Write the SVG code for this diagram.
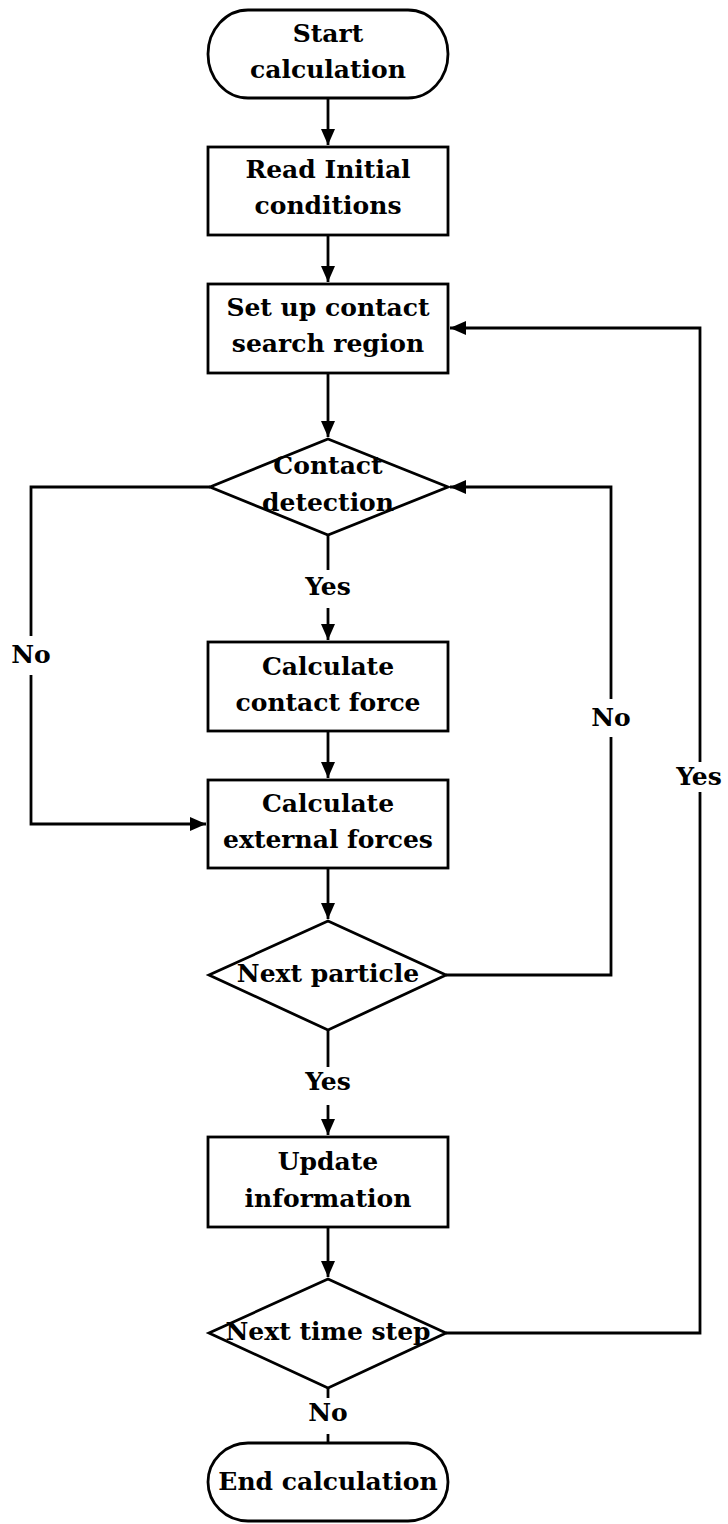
<svg xmlns="http://www.w3.org/2000/svg" width="728" height="1524" viewBox="0 0 728 1524">
<style>
.s{fill:#fff;stroke:#000;stroke-width:2.8}
.t{font-family:"DejaVu Serif",serif;font-weight:bold;font-size:25px;text-anchor:middle;fill:#000}
.c{fill:none;stroke:#000;stroke-width:2.8}
</style>
<defs>
<marker id="a" markerUnits="userSpaceOnUse" markerWidth="16" markerHeight="16" refX="16" refY="8" orient="auto">
<path d="M0,1 L16,8 L0,15 z" fill="#000"/>
</marker>
</defs>
<rect width="728" height="1524" fill="#fff"/>
<g id="connectors">
<path class="c" d="M328,98 V145" marker-end="url(#a)"/>
<path class="c" d="M328,235 V282" marker-end="url(#a)"/>
<path class="c" d="M328,373 V437" marker-end="url(#a)"/>
<path class="c" d="M328,535 V570"/>
<path class="c" d="M328,608 V640" marker-end="url(#a)"/>
<path class="c" d="M328,731 V778" marker-end="url(#a)"/>
<path class="c" d="M210,487 H31 V636"/>
<path class="c" d="M31,675 V824 H206" marker-end="url(#a)"/>
<path class="c" d="M328,868 V919" marker-end="url(#a)"/>
<path class="c" d="M446,975 H611 V737"/>
<path class="c" d="M611,699 V487 H450" marker-end="url(#a)"/>
<path class="c" d="M328,1030 V1067"/>
<path class="c" d="M328,1105 V1135" marker-end="url(#a)"/>
<path class="c" d="M328,1227 V1277" marker-end="url(#a)"/>
<path class="c" d="M446,1333 H700 V792"/>
<path class="c" d="M700,762 V328 H450" marker-end="url(#a)"/>
<path class="c" d="M328,1388 V1398"/>
<path class="c" d="M328,1434 V1442"/>
<text class="t" x="328" y="595">Yes</text>
<text class="t" x="31" y="663">No</text>
<text class="t" x="611" y="726">No</text>
<text class="t" x="699" y="785">Yes</text>
<text class="t" x="328" y="1090">Yes</text>
<text class="t" x="328" y="1421">No</text>
</g>
<g id="start">
<rect class="s" x="208" y="10" width="240" height="88" rx="40" ry="44"/>
<text class="t" x="328" y="42">Start</text>
<text class="t" x="328" y="78">calculation</text>
</g>
<g id="read">
<rect class="s" x="208" y="147" width="240" height="88"/>
<text class="t" x="328" y="178">Read Initial</text>
<text class="t" x="328" y="214">conditions</text>
</g>
<g id="setup">
<rect class="s" x="208" y="284" width="240" height="89"/>
<text class="t" x="328" y="316">Set up contact</text>
<text class="t" x="328" y="352">search region</text>
</g>
<g id="detect">
<path class="s" d="M328,439 L448,487 L328,535 L210,487 Z"/>
<text class="t" x="328" y="474">Contact</text>
<text class="t" x="328" y="511">detection</text>
</g>
<g id="contactforce">
<rect class="s" x="208" y="642" width="240" height="89"/>
<text class="t" x="328" y="675">Calculate</text>
<text class="t" x="328" y="711">contact force</text>
</g>
<g id="external">
<rect class="s" x="208" y="780" width="240" height="88"/>
<text class="t" x="328" y="812">Calculate</text>
<text class="t" x="328" y="848">external forces</text>
</g>
<g id="nextparticle">
<path class="s" d="M328,921 L446,975 L328,1030 L209,975 Z"/>
<text class="t" x="328" y="982">Next particle</text>
</g>
<g id="update">
<rect class="s" x="208" y="1137" width="240" height="90"/>
<text class="t" x="328" y="1170">Update</text>
<text class="t" x="328" y="1207">information</text>
</g>
<g id="nexttime">
<path class="s" d="M328,1279 L446,1333 L328,1388 L209,1333 Z"/>
<text class="t" x="328" y="1340">Next time step</text>
</g>
<g id="end">
<rect class="s" x="208" y="1443" width="240" height="78" rx="40" ry="39"/>
<text class="t" x="328" y="1490">End calculation</text>
</g>
</svg>
